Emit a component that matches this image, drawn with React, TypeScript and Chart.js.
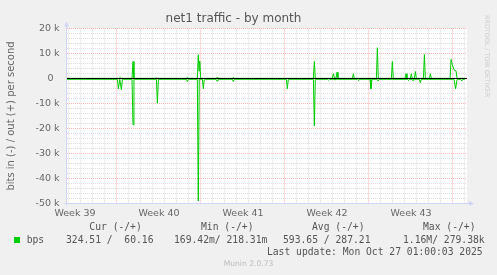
import React, { useEffect, useRef } from 'react';
import { Chart, registerables } from 'chart.js';

Chart.register(...registerables);

// ---- text ----
const TITLE = 'net1 traffic - by month';
const Y_TITLE = 'bits in (-) / out (+) per second';

// ---- axes (x in days from the left edge of the plot) ----
const X_MAX_DAYS = 33.33;
const Y_MIN = -50000;
const Y_MAX = 20000;
const Y_MINOR_STEP = 2000;
const Y_MAJOR_STEP = 10000;
const FIRST_DAY_LINE = 0.125;
const WEEK_STARTS = [4.125, 11.125, 18.125, 25.125, 32.125];
const WEEK_LABEL_TICKS = [0.125, 7.125, 14.125, 21.125, 28.125];
const WEEK_LABELS = ['Week 39', 'Week 40', 'Week 41', 'Week 42', 'Week 43'];

// ---- series: out (+) ----
const OUT_DAYS = [
  0, 4.33, 4.42, 4.5, 5.42, 5.5, 5.58, 7.33, 7.42, 7.5,
  9.96, 10.04, 10.12, 10.86, 10.94, 11.0, 11.06, 11.14,
  12.46, 12.54, 12.62, 13.78, 13.86, 13.94, 20.53, 20.61, 20.69,
  22.11, 22.19, 22.28, 22.42, 22.5, 22.58, 23.78, 23.86, 23.94,
  25.78, 25.86, 25.94, 27.03, 27.11, 27.19, 28.17, 28.25, 28.33,
  28.61, 28.69, 28.77, 28.95, 29.03, 29.11, 29.7, 29.78, 29.86,
  30.2, 30.28, 30.36, 31.92, 32.0, 32.11, 32.25, 32.42, 32.5, 33.17,
];
const OUT_BPS = [
  60, 60, 500, 60, 60, 6800, 60, 60, 300, 60,
  60, 500, 60, 60, 9500, 3000, 7000, 60,
  60, 600, 60, 60, 500, 60, 60, 6800, 60,
  60, 1900, 200, 200, 2500, 60, 60, 1900, 60,
  60, 12300, 60, 60, 6800, 60, 60, 1900, 60,
  60, 1900, 60, 60, 2800, 60, 60, 9600, 60,
  60, 1900, 60, 60, 7600, 5500, 3500, 3000, 60, 60,
];

// ---- series: in (-) ----
const IN_DAYS = [
  0, 4.2, 4.28, 4.4, 4.53, 4.62, 5.42, 5.5, 5.58, 7.45, 7.53, 7.62,
  9.95, 10.03, 10.11, 10.86, 10.94, 11.02, 11.28, 11.36, 11.44,
  12.42, 12.5, 12.58, 13.78, 13.86, 13.94, 18.28, 18.36, 18.44,
  20.53, 20.61, 20.69, 21.7, 21.78, 21.86, 22.25, 22.33, 22.41,
  24.17, 24.25, 24.33, 25.25, 25.33, 25.41, 25.84, 25.92, 26.0,
  28.38, 28.46, 28.54, 28.75, 28.83, 28.91, 29.36, 29.44, 29.52,
  32.25, 32.38, 32.5, 32.81, 32.89, 32.97, 33.17,
];
const IN_BPS = [
  -320, -320, -4100, -300, -4500, -320, -320, -18500, -320, -320, -9900, -320,
  -320, -1200, -320, -320, -49000, -320, -320, -4100, -320,
  -320, -1000, -320, -320, -1200, -320, -320, -4100, -320,
  -320, -19000, -320, -320, -700, -320, -320, -600, -320,
  -320, -700, -320, -320, -4100, -320, -320, -1000, -320,
  -320, -800, -320, -320, -800, -320, -320, -1700, -320,
  -320, -4100, -320, -320, -1000, -320, -320,
];

// ---- legend text ----
const LEGEND_HEADERS = ['Cur (-/+)', 'Min (-/+)', 'Avg (-/+)', 'Max (-/+)'];
const LEGEND_VALUES = ['324.51 /  60.16', '169.42m/ 218.31m', '593.65 / 287.21', '1.16M/ 279.38k'];
const SERIES_NAME = 'bps';
const LAST_UPDATE = 'Last update: Mon Oct 27 01:00:03 2025';
const FOOTER = 'Munin 2.0.73';
const WATERMARK = 'RRDTOOL / TOBI OETIKER';

const GREEN = '#00CC00';
const AXIS = '#CFD6F8';
const GRID_MINOR = 'rgba(150,150,150,0.32)';
const GRID_MAJOR = 'rgba(255,60,60,0.38)';

const near = (a: number, b: number) => Math.abs(a - b) < 1e-6;

const frame = {
  id: 'frame',
  beforeDraw(chart: any) {
    const { ctx, chartArea: a } = chart;
    ctx.save();
    ctx.fillStyle = '#F0F0F0';
    ctx.fillRect(0, 0, chart.width, chart.height);
    ctx.fillStyle = '#FFFFFF';
    ctx.fillRect(a.left, a.top, a.right - a.left, a.bottom - a.top);
    ctx.restore();
  },
  afterDraw(chart: any) {
    const { ctx, chartArea: a } = chart;
    const x0 = a.left - 0.5;
    const y0 = a.bottom;
    ctx.save();
    ctx.strokeStyle = AXIS;
    ctx.fillStyle = AXIS;
    ctx.lineWidth = 1;
    ctx.beginPath();
    ctx.moveTo(x0, y0 + 2);
    ctx.lineTo(x0, a.top - 3);
    ctx.moveTo(x0 - 2, y0);
    ctx.lineTo(a.right + 3, y0);
    ctx.stroke();
    // arrows
    ctx.beginPath();
    ctx.moveTo(x0, a.top - 7);
    ctx.lineTo(x0 - 2.5, a.top - 2);
    ctx.lineTo(x0 + 2.5, a.top - 2);
    ctx.closePath();
    ctx.fill();
    ctx.beginPath();
    ctx.moveTo(a.right + 7, y0);
    ctx.lineTo(a.right + 2, y0 - 2.5);
    ctx.lineTo(a.right + 2, y0 + 2.5);
    ctx.closePath();
    ctx.fill();
    ctx.restore();
  },
};

const MONO = '"DejaVu Sans Mono", monospace';
const SANS = '"DejaVu Sans", sans-serif';

function Txt(props: { x?: number; right?: number; cy: number; text: string; size?: number; color?: string; font?: string; center?: boolean }) {
  const size = props.size ?? 9.7;
  const style: React.CSSProperties = {
    position: 'absolute',
    top: props.cy - 6,
    height: 12,
    lineHeight: '12px',
    fontFamily: props.font ?? MONO,
    fontSize: size,
    color: props.color ?? '#555',
    whiteSpace: 'pre',
  };
  if (props.center) {
    style.left = (props.x ?? 0) - 100;
    style.width = 200;
    style.textAlign = 'center';
  } else if (props.right !== undefined) {
    style.right = props.right;
    style.textAlign = 'right';
  } else {
    style.left = props.x;
  }
  return <div style={style}>{props.text}</div>;
}

export default function App() {
  const ref = useRef<HTMLCanvasElement>(null);

  useEffect(() => {
    document.body.style.margin = '0';
    Chart.defaults.font.family = SANS;
    const dayTicks: number[] = [];
    for (let d = FIRST_DAY_LINE; d <= X_MAX_DAYS; d += 1) dayTicks.push(d);
    const yTicks: number[] = [];
    for (let v = Y_MIN; v <= Y_MAX; v += Y_MINOR_STEP) yTicks.push(v);

    const chart = new Chart(ref.current as HTMLCanvasElement, {
      type: 'line',
      data: {
        datasets: [
          {
            label: 'zero',
            data: [{ x: 0, y: 0 }, { x: X_MAX_DAYS, y: 0 }],
            borderColor: '#000000',
            borderWidth: 1,
            pointRadius: 0,
          },
          {
            label: 'out',
            data: OUT_DAYS.map((d, i) => ({ x: d, y: OUT_BPS[i] })),
            borderColor: GREEN,
            borderWidth: 1,
            pointRadius: 0,
            tension: 0,
          },
          {
            label: 'in',
            data: IN_DAYS.map((d, i) => ({ x: d, y: IN_BPS[i] })),
            borderColor: GREEN,
            borderWidth: 1,
            pointRadius: 0,
            tension: 0,
          },
        ],
      },
      options: {
        responsive: false,
        animation: false,
        layout: { padding: { left: 0, right: 30, top: 0, bottom: 0 } },
        plugins: {
          legend: { display: false },
          tooltip: { enabled: false },
          title: {
            display: true,
            text: TITLE,
            color: '#555',
            font: { size: 12, weight: 'normal' },
            padding: { top: 12, bottom: 2.1 },
          },
        },
        scales: {
          x: {
            type: 'linear',
            min: 0,
            max: X_MAX_DAYS,
            afterBuildTicks: (s: any) => {
              s.ticks = dayTicks.map((v) => ({ value: v }));
            },
            afterFit: (s: any) => {
              s.height = 71.5;
            },
            grid: {
              drawTicks: false,
              lineWidth: 1,
              color: (c: any) => (c.tick && WEEK_STARTS.some((w) => near(w, c.tick.value)) ? GRID_MAJOR : GRID_MINOR),
            },
            border: { display: false, dash: [1, 1] },
            ticks: {
              autoSkip: false,
              maxRotation: 0,
              minRotation: 0,
              labelOffset: 6.5,
              padding: 4,
              color: '#666',
              font: { size: 9.5 },
              callback: (v: any) => {
                const i = WEEK_LABEL_TICKS.findIndex((w) => near(w, Number(v)));
                return i >= 0 ? WEEK_LABELS[i] : '';
              },
            },
          },
          y: {
            type: 'linear',
            min: Y_MIN,
            max: Y_MAX,
            afterBuildTicks: (s: any) => {
              s.ticks = yTicks.map((v) => ({ value: v }));
            },
            afterFit: (s: any) => {
              s.width = 67;
            },
            grid: {
              drawTicks: false,
              lineWidth: 1,
              color: (c: any) => (c.tick && c.tick.value % Y_MAJOR_STEP === 0 ? GRID_MAJOR : GRID_MINOR),
            },
            border: { display: false, dash: [1, 1] },
            title: {
              display: true,
              text: Y_TITLE,
              color: '#666',
              font: { size: 10 },
              padding: { top: 5, bottom: 0 },
            },
            ticks: {
              autoSkip: false,
              padding: 7.5,
              color: '#666',
              font: { size: 9.5 },
              callback: (v: any) => {
                const n = Number(v);
                if (n % Y_MAJOR_STEP !== 0) return '';
                return n === 0 ? '0  ' : `${n / 1000} k`;
              },
            },
          },
        },
      } as any,
      plugins: [frame],
    });
    return () => chart.destroy();
  }, []);

  const headerX = [89.3, 201, 312, 423];
  const valueX = [66, 174, 283, 403];

  return (
    <div style={{ position: 'relative', width: 497, height: 275, background: '#F0F0F0', overflow: 'hidden' }}>
      <canvas ref={ref} width={497} height={275} style={{ position: 'absolute', left: 0, top: 0 }} />
      {LEGEND_HEADERS.map((h, i) => (
        <Txt key={h} x={headerX[i]} cy={227} text={h} />
      ))}
      <div style={{ position: 'absolute', left: 14, top: 237, width: 6, height: 6, background: GREEN }} />
      <Txt x={26.7} cy={240} text={SERIES_NAME} />
      {LEGEND_VALUES.map((v, i) => (
        <Txt key={v} x={valueX[i]} cy={240} text={v} />
      ))}
      <Txt right={14.3} cy={252} text={LAST_UPDATE} />
      <Txt x={248.5} center cy={264} text={FOOTER} font={SANS} size={7.6} color="#BBBBBB" />
      <div
        style={{
          position: 'absolute',
          left: 482,
          top: 15,
          writingMode: 'vertical-rl',
          fontFamily: SANS,
          fontSize: 6.4,
          lineHeight: '9px',
          color: '#CCCCCC',
          whiteSpace: 'pre',
        }}
      >
        {WATERMARK}
      </div>
    </div>
  );
}
